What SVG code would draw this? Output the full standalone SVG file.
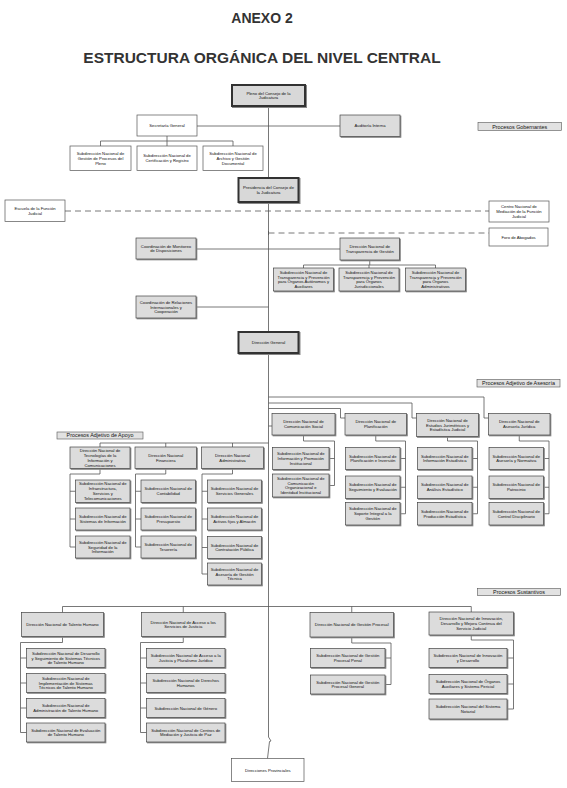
<svg xmlns="http://www.w3.org/2000/svg" width="567" height="788" viewBox="0 0 567 788">
<style>
.g{fill:#dcdcdc;stroke:#444;stroke-width:.7;filter:url(#sh)}
.w{fill:#fff;stroke:#555;stroke-width:.7}
.k{fill:#d8d8d8;stroke:#333;stroke-width:2;filter:url(#sh)}
.l{fill:#e2e2e2;stroke:#555;stroke-width:.6}
.t{font-family:"Liberation Sans",Arial,sans-serif;font-size:4.2px;fill:#111;text-anchor:middle}
.lt{font-family:"Liberation Sans",Arial,sans-serif;font-size:5.4px;fill:#111;text-anchor:middle}
.h{font-family:"Liberation Sans",Arial,sans-serif;font-weight:bold;fill:#333;text-anchor:middle}
.c{fill:none;stroke:#555;stroke-width:.8}
.d{fill:none;stroke:#555;stroke-width:.8;stroke-dasharray:6 4}
</style>
<defs>
<filter id="sh" x="-10%" y="-10%" width="130%" height="140%"><feDropShadow dx="1" dy="1" stdDeviation="0.4" flood-color="#888"/></filter>
</defs>
<rect width="567" height="788" fill="#fff"/>
<text class="h" x="262" y="23" font-size="14">ANEXO 2</text>
<text class="h" x="262" y="63" font-size="15.5">ESTRUCTURA ORGÁNICA DEL NIVEL CENTRAL</text>

<g id="connectors">
<path class="c" d="M268.5,106V178M268.5,202V332M268.5,353V737L271,741L269.5,741.5L267.5,758.5"/>
<path class="c" d="M197,126H340M167,136V141M100.5,141H233M100.5,141V146M167,141V146M233,141V146"/>
<path class="d" d="M65,211H489M268.5,233H489"/>
<path class="c" stroke-width="1.6" d="M268.5,231V235"/>
<path class="c" d="M196,249H340M369.75,260V265M303.5,265H435.5M303.5,265V268M369,265V268M435.5,265V268M196,307H268.5"/>
<path class="c" d="M268.5,397H484V418H488.5M268.5,403H412V418H416.5M268.5,408.5H340.5V418H345M268.5,426H272"/>
<path class="c" d="M303.5,435V441H334.5V485.5M329,458.5H334.5M329,485.5H334.5"/>
<path class="c" d="M375.75,435V441H405.5V513.75M400,458.5H405.5M400,487.25H405.5M400,513.75H405.5"/>
<path class="c" d="M447.5,436.5V441H477.5V513.75M472,458.5H477.5M472,487.25H477.5M472,513.75H477.5"/>
<path class="c" d="M519.25,435V441H549V513.75M543.5,458.5H549M543.5,487.25H549M543.5,513.75H549"/>
<path class="c" d="M100,443H268.5M100,443V447M165.75,443V447M232.5,443V447"/>
<path class="c" d="M100,468.5V474H70V547M70,491.25H75.5M70,519H75.5M70,547H75.5"/>
<path class="c" d="M165.75,468.5V474H135.5V547M135.5,491.25H141M135.5,519H141M135.5,547H141"/>
<path class="c" d="M232.5,468.5V474H202V574M202,491.25H207.5M202,519H207.5M202,547.5H207.5M202,574H207.5"/>
<path class="c" d="M62.5,606.5H471.25M62.5,606.5V612.5M183.25,606.5V612.5M351.75,606.5V612.5M471.25,606.5V612"/>
<path class="c" d="M62.5,636.5V642.5H20.5V732.5M20.5,658H26.5M20.5,683H26.5M20.5,708H26.5M20.5,732.5H26.5"/>
<path class="c" d="M183.25,636.5V642.5H140.5V732.5M140.5,658H146.5M140.5,683H146.5M140.5,708H146.5M140.5,732.5H146.5"/>
<path class="c" d="M351.75,637V643H391V684.5M385,658H391M385,684.5H391"/>
<path class="c" d="M471.25,635V640H513.5V709M507,658H513.5M507,684H513.5M507,709H513.5"/>
</g>

<g id="pleno"><rect class="k" x="232" y="85" width="73" height="21"/><text class="t" y="94.5"><tspan x="268.5">Pleno del Consejo de la</tspan><tspan x="268.5" dy="4.9">Judicatura</tspan></text></g>
<g id="secretaria"><rect class="w" x="137" y="115" width="60" height="21"/><text class="t" y="127"><tspan x="167">Secretaría General</tspan></text></g>
<g id="auditoria"><rect class="g" x="340" y="115" width="60" height="21.5"/><text class="t" y="127.25"><tspan x="370">Auditoría Interna</tspan></text></g>
<g id="lbl-gobernantes"><rect class="l" x="478" y="122.5" width="83.5" height="8"/><text class="lt" x="519.75" y="128.5">Procesos Gobernantes</text></g>
<g id="sub-pleno"><rect class="w" x="70" y="146" width="61" height="24.5"/><text class="t" y="154.85"><tspan x="100.5">Subdirección Nacional de</tspan><tspan x="100.5" dy="4.9">Gestión de Procesos del</tspan><tspan x="100.5" dy="4.9">Pleno</tspan></text></g>
<g id="sub-certificacion"><rect class="w" x="137" y="146" width="60" height="24.5"/><text class="t" y="157.3"><tspan x="167">Subdirección Nacional de</tspan><tspan x="167" dy="4.9">Certificación y Registro</tspan></text></g>
<g id="sub-archivo"><rect class="w" x="203" y="146" width="60" height="24.5"/><text class="t" y="154.85"><tspan x="233">Subdirección Nacional de</tspan><tspan x="233" dy="4.9">Archivo y Gestión</tspan><tspan x="233" dy="4.9">Documental</tspan></text></g>
<g id="presidencia"><rect class="k" x="238.5" y="178" width="60" height="24"/><text class="t" y="189.05"><tspan x="268.5">Presidencia del Consejo de</tspan><tspan x="268.5" dy="4.9">la Judicatura</tspan></text></g>
<g id="escuela"><rect class="w" x="5" y="200" width="60" height="21.5"/><text class="t" y="209.8"><tspan x="35">Escuela de la Función</tspan><tspan x="35" dy="4.9">Judicial</tspan></text></g>
<g id="centro-mediacion"><rect class="w" x="489" y="201" width="60" height="21"/><text class="t" y="208.1"><tspan x="519">Centro Nacional de</tspan><tspan x="519" dy="4.9">Mediación de la Función</tspan><tspan x="519" dy="4.9">Judicial</tspan></text></g>
<g id="foro"><rect class="w" x="489" y="228" width="59" height="18"/><text class="t" y="238.7" font-size="4.8"><tspan x="518.5">Foro de Abogados</tspan></text></g>
<g id="coord-monitoreo"><rect class="g" x="136" y="238" width="60" height="21"/><text class="t" y="247.55"><tspan x="166">Coordinación de Monitoreo</tspan><tspan x="166" dy="4.9">de Disposiciones</tspan></text></g>
<g id="dn-transparencia"><rect class="g" x="340" y="238" width="59.5" height="22"/><text class="t" y="248.05"><tspan x="369.75">Dirección Nacional de</tspan><tspan x="369.75" dy="4.9">Transparencia de Gestión</tspan></text></g>
<g id="sub-transp-1"><rect class="g" x="273.5" y="268" width="60" height="23"/><text class="t" y="273.65"><tspan x="303.5">Subdirección Nacional de</tspan><tspan x="303.5" dy="4.9">Transparencia y Prevención</tspan><tspan x="303.5" dy="4.9">para Órganos Autónomos y</tspan><tspan x="303.5" dy="4.9">Auxiliares</tspan></text></g>
<g id="sub-transp-2"><rect class="g" x="339" y="268" width="60" height="23"/><text class="t" y="273.65"><tspan x="369">Subdirección Nacional de</tspan><tspan x="369" dy="4.9">Transparencia y Prevención</tspan><tspan x="369" dy="4.9">para Órganos</tspan><tspan x="369" dy="4.9">Jurisdiccionales</tspan></text></g>
<g id="sub-transp-3"><rect class="g" x="405.5" y="268" width="60" height="23"/><text class="t" y="273.65"><tspan x="435.5">Subdirección Nacional de</tspan><tspan x="435.5" dy="4.9">Transparencia y Prevención</tspan><tspan x="435.5" dy="4.9">para Órganos</tspan><tspan x="435.5" dy="4.9">Administrativos</tspan></text></g>
<g id="coord-relaciones"><rect class="g" x="136" y="296" width="60" height="22"/><text class="t" y="303.6"><tspan x="166">Coordinación de Relaciones</tspan><tspan x="166" dy="4.9">Internacionales y</tspan><tspan x="166" dy="4.9">Cooperación</tspan></text></g>
<g id="direccion-general"><rect class="k" x="238.5" y="332" width="60" height="21"/><text class="t" y="344"><tspan x="268.5">Dirección General</tspan></text></g>
<g id="lbl-asesoria"><rect class="l" x="477" y="379.5" width="83" height="7.5"/><text class="lt" x="518.5" y="385.2">Procesos Adjetivo de Asesoría</text></g>
<g id="lbl-apoyo"><rect class="l" x="57" y="432" width="86" height="7"/><text class="lt" x="100" y="437.4">Procesos Adjetivo de Apoyo</text></g>

<g id="dn-tecnologias"><rect class="g" x="70" y="447" width="60" height="21.5"/><text class="t" y="451.9"><tspan x="100">Dirección Nacional de</tspan><tspan x="100" dy="4.9">Tecnologías de la</tspan><tspan x="100" dy="4.9">Información y</tspan><tspan x="100" dy="4.9">Comunicaciones</tspan></text></g>
<g id="dn-financiera"><rect class="g" x="135" y="447" width="61.5" height="21.5"/><text class="t" y="456.8"><tspan x="165.75">Dirección Nacional</tspan><tspan x="165.75" dy="4.9">Financiera</tspan></text></g>
<g id="dn-administrativa"><rect class="g" x="201.5" y="447" width="62" height="21.5"/><text class="t" y="456.8"><tspan x="232.5">Dirección Nacional</tspan><tspan x="232.5" dy="4.9">Administrativa</tspan></text></g>
<g id="sub-infraestructura"><rect class="g" x="75.5" y="480" width="54.5" height="22.5"/><text class="t" y="485.4"><tspan x="102.75">Subdirección Nacional de</tspan><tspan x="102.75" dy="4.9">Infraestructura,</tspan><tspan x="102.75" dy="4.9">Servicios y</tspan><tspan x="102.75" dy="4.9">Telecomunicaciones</tspan></text></g>
<g id="sub-sistemas"><rect class="g" x="75.5" y="508" width="54.5" height="22"/><text class="t" y="518.05"><tspan x="102.75">Subdirección Nacional de</tspan><tspan x="102.75" dy="4.9">Sistemas de Información</tspan></text></g>
<g id="sub-seguridad"><rect class="g" x="75.5" y="536" width="54.5" height="22"/><text class="t" y="543.6"><tspan x="102.75">Subdirección Nacional de</tspan><tspan x="102.75" dy="4.9">Seguridad de la</tspan><tspan x="102.75" dy="4.9">Información</tspan></text></g>
<g id="sub-contabilidad"><rect class="g" x="141" y="480" width="54.5" height="22.5"/><text class="t" y="490.3"><tspan x="168.25">Subdirección Nacional de</tspan><tspan x="168.25" dy="4.9">Contabilidad</tspan></text></g>
<g id="sub-presupuesto"><rect class="g" x="141" y="508" width="54.5" height="22"/><text class="t" y="518.05"><tspan x="168.25">Subdirección Nacional de</tspan><tspan x="168.25" dy="4.9">Presupuesto</tspan></text></g>
<g id="sub-tesoreria"><rect class="g" x="141" y="536" width="54.5" height="22"/><text class="t" y="546.05"><tspan x="168.25">Subdirección Nacional de</tspan><tspan x="168.25" dy="4.9">Tesorería</tspan></text></g>
<g id="sub-servicios"><rect class="g" x="207.5" y="480" width="54" height="22.5"/><text class="t" y="490.3"><tspan x="234.5">Subdirección Nacional de</tspan><tspan x="234.5" dy="4.9">Servicios Generales</tspan></text></g>
<g id="sub-activos"><rect class="g" x="207.5" y="508" width="54" height="22"/><text class="t" y="518.05"><tspan x="234.5">Subdirección Nacional de</tspan><tspan x="234.5" dy="4.9">Activos fijos y Almacén</tspan></text></g>
<g id="sub-contratacion"><rect class="g" x="207.5" y="536.5" width="54" height="22"/><text class="t" y="546.55"><tspan x="234.5">Subdirección Nacional de</tspan><tspan x="234.5" dy="4.9">Contratación Pública</tspan></text></g>
<g id="sub-asesoria-gestion"><rect class="g" x="207.5" y="563" width="54" height="22"/><text class="t" y="570.6"><tspan x="234.5">Subdirección Nacional de</tspan><tspan x="234.5" dy="4.9">Asesoría de Gestión</tspan><tspan x="234.5" dy="4.9">Técnica</tspan></text></g>

<g id="dn-comunicacion"><rect class="g" x="272" y="413.5" width="63" height="21.5"/><text class="t" y="423.3"><tspan x="303.5">Dirección Nacional de</tspan><tspan x="303.5" dy="4.9">Comunicación Social</tspan></text></g>
<g id="dn-planificacion"><rect class="g" x="345" y="413.5" width="61.5" height="21.5"/><text class="t" y="423.3"><tspan x="375.75">Dirección Nacional de</tspan><tspan x="375.75" dy="4.9">Planificación</tspan></text></g>
<g id="dn-estudios"><rect class="g" x="416.5" y="413.5" width="62" height="23"/><text class="t" y="421.6"><tspan x="447.5">Dirección Nacional de</tspan><tspan x="447.5" dy="4.9">Estudios Jurimétricos y</tspan><tspan x="447.5" dy="4.9">Estadística Judicial</tspan></text></g>
<g id="dn-asesoria"><rect class="g" x="488.5" y="413.5" width="61.5" height="21.5"/><text class="t" y="423.3"><tspan x="519.25">Dirección Nacional de</tspan><tspan x="519.25" dy="4.9">Asesoría Jurídica</tspan></text></g>
<g id="sub-informacion-promocion"><rect class="g" x="272.5" y="447.5" width="56.5" height="22"/><text class="t" y="455.1"><tspan x="300.75">Subdirección Nacional de</tspan><tspan x="300.75" dy="4.9">Información y Promoción</tspan><tspan x="300.75" dy="4.9">Institucional</tspan></text></g>
<g id="sub-comunicacion-org"><rect class="g" x="272.5" y="474" width="56.5" height="23"/><text class="t" y="479.65"><tspan x="300.75">Subdirección Nacional de</tspan><tspan x="300.75" dy="4.9">Comunicación</tspan><tspan x="300.75" dy="4.9">Organizacional e</tspan><tspan x="300.75" dy="4.9">Identidad Institucional</tspan></text></g>
<g id="sub-planificacion"><rect class="g" x="345.5" y="447.5" width="54.5" height="22"/><text class="t" y="457.55"><tspan x="372.75">Subdirección Nacional de</tspan><tspan x="372.75" dy="4.9">Planificación e Inversión</tspan></text></g>
<g id="sub-seguimiento"><rect class="g" x="345.5" y="476" width="54.5" height="22.5"/><text class="t" y="486.3"><tspan x="372.75">Subdirección Nacional de</tspan><tspan x="372.75" dy="4.9">Seguimiento y Evaluación</tspan></text></g>
<g id="sub-soporte"><rect class="g" x="345.5" y="502.5" width="54.5" height="22.5"/><text class="t" y="510.35"><tspan x="372.75">Subdirección Nacional de</tspan><tspan x="372.75" dy="4.9">Soporte Integral a la</tspan><tspan x="372.75" dy="4.9">Gestión</tspan></text></g>
<g id="sub-info-estadistica"><rect class="g" x="417.5" y="447.5" width="54.5" height="22"/><text class="t" y="457.55"><tspan x="444.75">Subdirección Nacional de</tspan><tspan x="444.75" dy="4.9">Información Estadística</tspan></text></g>
<g id="sub-analisis"><rect class="g" x="417.5" y="476" width="54.5" height="22.5"/><text class="t" y="486.3"><tspan x="444.75">Subdirección Nacional de</tspan><tspan x="444.75" dy="4.9">Análisis Estadístico</tspan></text></g>
<g id="sub-produccion"><rect class="g" x="417.5" y="502.5" width="54.5" height="22.5"/><text class="t" y="512.8"><tspan x="444.75">Subdirección Nacional de</tspan><tspan x="444.75" dy="4.9">Producción Estadística</tspan></text></g>
<g id="sub-normativa"><rect class="g" x="489" y="447.5" width="54.5" height="22"/><text class="t" y="457.55"><tspan x="516.25">Subdirección Nacional de</tspan><tspan x="516.25" dy="4.9">Asesoría y Normativa</tspan></text></g>
<g id="sub-patrocinio"><rect class="g" x="489" y="476" width="54.5" height="22.5"/><text class="t" y="486.3"><tspan x="516.25">Subdirección Nacional de</tspan><tspan x="516.25" dy="4.9">Patrocinio</tspan></text></g>
<g id="sub-control"><rect class="g" x="489" y="502.5" width="54.5" height="22.5"/><text class="t" y="512.8"><tspan x="516.25">Subdirección Nacional de</tspan><tspan x="516.25" dy="4.9">Control Disciplinario</tspan></text></g>

<g id="lbl-sustantivos"><rect class="l" x="477.5" y="588.5" width="83" height="7"/><text class="lt" x="519" y="594">Procesos Sustantivos</text></g>
<g id="dn-talento"><rect class="g" x="21.5" y="612.5" width="82" height="24"/><text class="t" y="626"><tspan x="62.5">Dirección Nacional de Talento Humano</tspan></text></g>
<g id="dn-acceso"><rect class="g" x="141.5" y="612.5" width="83.5" height="24"/><text class="t" y="623.55"><tspan x="183.25">Dirección Nacional de Acceso a los</tspan><tspan x="183.25" dy="4.9">Servicios de Justicia</tspan></text></g>
<g id="dn-gestion-procesal"><rect class="g" x="310" y="612.5" width="83.5" height="24.5"/><text class="t" y="626.25"><tspan x="351.75">Dirección Nacional de Gestión Procesal</tspan></text></g>
<g id="dn-innovacion"><rect class="g" x="429" y="612" width="84.5" height="23"/><text class="t" y="620.1"><tspan x="471.25">Dirección Nacional de Innovación,</tspan><tspan x="471.25" dy="4.9">Desarrollo y Mejora Continua del</tspan><tspan x="471.25" dy="4.9">Servicio Judicial</tspan></text></g>
<g id="sub-desarrollo-th"><rect class="g" x="26.5" y="648.5" width="78.5" height="19"/><text class="t" y="654.6"><tspan x="65.75">Subdirección Nacional de Desarrollo</tspan><tspan x="65.75" dy="4.9">y Seguimiento de Sistemas Técnicos</tspan><tspan x="65.75" dy="4.9">de Talento Humano</tspan></text></g>
<g id="sub-implementacion-th"><rect class="g" x="26.5" y="673.5" width="78.5" height="19"/><text class="t" y="679.6"><tspan x="65.75">Subdirección Nacional de</tspan><tspan x="65.75" dy="4.9">Implementación de Sistemas</tspan><tspan x="65.75" dy="4.9">Técnicos de Talento Humano</tspan></text></g>
<g id="sub-administracion-th"><rect class="g" x="26.5" y="698.5" width="78.5" height="19"/><text class="t" y="707.05"><tspan x="65.75">Subdirección Nacional de</tspan><tspan x="65.75" dy="4.9">Administración de Talento Humano</tspan></text></g>
<g id="sub-evaluacion-th"><rect class="g" x="26.5" y="723" width="78.5" height="19"/><text class="t" y="731.55"><tspan x="65.75">Subdirección Nacional de Evaluación</tspan><tspan x="65.75" dy="4.9">de Talento Humano</tspan></text></g>
<g id="sub-acceso-justicia"><rect class="g" x="146.5" y="648.5" width="78.5" height="19"/><text class="t" y="657.05"><tspan x="185.75">Subdirección Nacional de Acceso a la</tspan><tspan x="185.75" dy="4.9">Justicia y Pluralismo Jurídico</tspan></text></g>
<g id="sub-derechos"><rect class="g" x="146.5" y="673.5" width="78.5" height="19"/><text class="t" y="682.05"><tspan x="185.75">Subdirección Nacional de Derechos</tspan><tspan x="185.75" dy="4.9">Humanos</tspan></text></g>
<g id="sub-genero"><rect class="g" x="146.5" y="698.5" width="78.5" height="19"/><text class="t" y="709.5"><tspan x="185.75">Subdirección Nacional de Género</tspan></text></g>
<g id="sub-mediacion"><rect class="g" x="146.5" y="723" width="78.5" height="19"/><text class="t" y="731.55"><tspan x="185.75">Subdirección Nacional de Centros de</tspan><tspan x="185.75" dy="4.9">Mediación y Justicia de Paz</tspan></text></g>
<g id="sub-procesal-penal"><rect class="g" x="310.5" y="648.5" width="74.5" height="19"/><text class="t" y="657.05"><tspan x="347.75">Subdirección Nacional de Gestión</tspan><tspan x="347.75" dy="4.9">Procesal Penal</tspan></text></g>
<g id="sub-procesal-general"><rect class="g" x="310.5" y="675" width="74.5" height="19"/><text class="t" y="683.55"><tspan x="347.75">Subdirección Nacional de Gestión</tspan><tspan x="347.75" dy="4.9">Procesal General</tspan></text></g>
<g id="sub-innovacion"><rect class="g" x="429" y="648.5" width="78" height="19"/><text class="t" y="657.05"><tspan x="468">Subdirección Nacional de Innovación</tspan><tspan x="468" dy="4.9">y Desarrollo</tspan></text></g>
<g id="sub-organos-auxiliares"><rect class="g" x="429" y="674.5" width="78" height="19"/><text class="t" y="683.05"><tspan x="468">Subdirección Nacional de Órganos</tspan><tspan x="468" dy="4.9">Auxiliares y Sistema Pericial</tspan></text></g>
<g id="sub-notarial"><rect class="g" x="429" y="699" width="78" height="20"/><text class="t" y="708.05"><tspan x="468">Subdirección Nacional del Sistema</tspan><tspan x="468" dy="4.9">Notarial</tspan></text></g>
<g id="direcciones-provinciales"><rect class="w" x="231.5" y="758.5" width="72.5" height="23"/><text class="t" y="771.5" font-size="4.6"><tspan x="267.75">Direcciones Provinciales</tspan></text></g>
</svg>
